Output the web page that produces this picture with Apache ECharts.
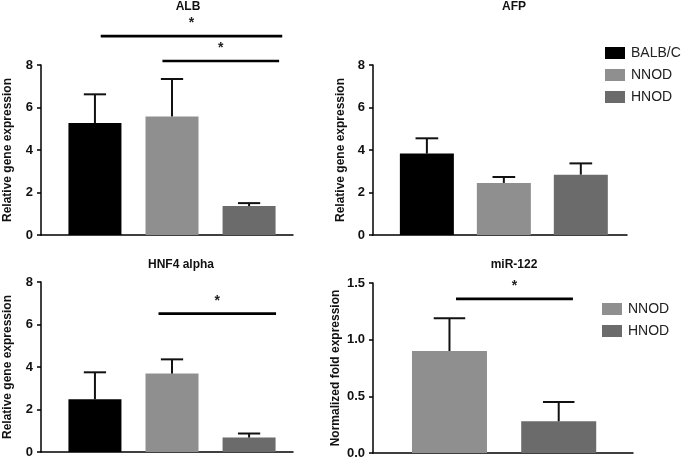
<!DOCTYPE html>
<html>
<head>
<meta charset="utf-8">
<script src="https://cdn.jsdelivr.net/npm/echarts@6/dist/echarts.min.js"></script>
<style>
html,body{margin:0;padding:0;background:#fff;}
#chart{width:685px;height:460px;}
</style>
</head>
<body>
<div id="chart"></div>
<script>
// ---- data ----
const categories = ['BALB/C', 'NNOD', 'HNOD'];
const albMean = [5.27, 5.58, 1.36];
const albErr  = [1.35, 1.76, 0.14];
const afpMean = [3.83, 2.45, 2.84];
const afpErr  = [0.72, 0.28, 0.53];
const hnfMean = [2.48, 3.69, 0.68];
const hnfErr  = [1.27, 0.67, 0.19];
const mirCategories = ['NNOD', 'HNOD'];
const mirMean = [0.90, 0.28];
const mirErr  = [0.29, 0.17];
const geneTicks = [0, 2, 4, 6, 8];
const mirTicks = ['0.0', '0.5', '1.0', '1.5'];
// significance brackets: [from position, to position, height]
const albSig = [[1.075, 3.43, 9.36], [1.876, 3.39, 8.19]];
const hnfSig = [[1.825, 3.35, 6.51]];
const mirSig = [[1.06, 2.13, 1.36]];
const panelTitles = ['ALB', 'AFP', 'HNF4 alpha', 'miR-122'];

// ---- styles ----
const colors = {'BALB/C': '#000000', 'NNOD': '#8f8f8f', 'HNOD': '#6b6b6b'};
const FONT = 'Liberation Sans, Arial, sans-serif';

const grids = [
  {left: 41, top: 65, width: 252, height: 170},
  {left: 373, top: 65, width: 254, height: 170},
  {left: 41, top: 282, width: 252, height: 170},
  {left: 373, top: 283, width: 260, height: 170}
];
const xRanges = [[0.3, 3.57], [0.3, 3.6], [0.3, 3.57], [0.3, 2.68]];

const xAxes = grids.map((g, i) => ({
  type: 'value', gridIndex: i, min: xRanges[i][0], max: xRanges[i][1],
  axisLine: {show: true, lineStyle: {color: '#000', width: 1.5}},
  axisTick: {show: false}, axisLabel: {show: false}, splitLine: {show: false}
}));

function yAxis(i, name, max, interval, fmt) {
  return {
    type: 'value', gridIndex: i, min: 0, max: max, interval: interval,
    name: name, nameLocation: 'middle', nameGap: 27,
    nameTextStyle: {fontFamily: FONT, fontWeight: 'bold', fontSize: 12, color: '#111'},
    axisLine: {show: true, lineStyle: {color: '#000', width: 1.5}},
    axisTick: {show: true, length: 4, lineStyle: {color: '#000', width: 1.5}},
    axisLabel: {fontFamily: FONT, fontWeight: 'bold', fontSize: 13, color: '#111', margin: 8, formatter: fmt},
    splitLine: {show: false}
  };
}
const yAxes = [
  yAxis(0, 'Relative gene expression', geneTicks[geneTicks.length-1], geneTicks[1]-geneTicks[0], v => String(v)),
  yAxis(1, 'Relative gene expression', geneTicks[geneTicks.length-1], geneTicks[1]-geneTicks[0], v => String(v)),
  yAxis(2, 'Relative gene expression', geneTicks[geneTicks.length-1], geneTicks[1]-geneTicks[0], v => String(v)),
  yAxis(3, 'Normalized fold expression', parseFloat(mirTicks[mirTicks.length-1]), 0.5, v => v.toFixed(1))
];
yAxes[1].nameGap = 26;
yAxes[3].nameGap = 31;

const series = [];
function addPanel(idx, cats, means, errs, barWidth, sigs) {
  cats.forEach((c, k) => {
    series.push({
      type: 'bar', name: c, xAxisIndex: idx, yAxisIndex: idx,
      barWidth: barWidth, barGap: '-100%',
      itemStyle: {color: colors[c]},
      data: [[k + 1, means[k]]], z: 2, silent: true
    });
  });
  const cap = barWidth * 0.21;
  series.push({
    type: 'custom', xAxisIndex: idx, yAxisIndex: idx, z: 5, silent: true,
    data: means.map((m, k) => [k + 1, m, errs[k]]),
    encode: {x: 0, y: [1]},
    renderItem: function (params, api) {
      const x = api.value(0), m = api.value(1), e = api.value(2);
      const p0 = api.coord([x, m]);
      const p1 = api.coord([x, m + e]);
      const st = {stroke: '#111', lineWidth: 2};
      return {type: 'group', children: [
        {type: 'line', shape: {x1: p0[0], y1: p0[1], x2: p1[0], y2: p1[1]}, style: st},
        {type: 'line', shape: {x1: p1[0] - cap, y1: p1[1], x2: p1[0] + cap, y2: p1[1]}, style: st}
      ]};
    }
  });
  if (sigs && sigs.length) {
    series.push({
      type: 'custom', xAxisIndex: idx, yAxisIndex: idx, z: 6, silent: true, clip: false,
      data: sigs,
      encode: {x: [0, 1], y: 2},
      renderItem: function (params, api) {
        const a = api.coord([api.value(0), api.value(2)]);
        const b = api.coord([api.value(1), api.value(2)]);
        return {type: 'group', children: [
          {type: 'line', shape: {x1: a[0], y1: a[1], x2: b[0], y2: b[1]}, style: {stroke: '#000', lineWidth: 2.6}},
          {type: 'text', style: {text: '*', x: (a[0] + b[0]) / 2, y: a[1] - 6, align: 'center', verticalAlign: 'bottom',
            font: 'bold 14px ' + FONT, fill: '#222'}}
        ]};
      }
    });
  }
}
addPanel(0, categories, albMean, albErr, 53, albSig);
addPanel(1, categories, afpMean, afpErr, 54, []);
addPanel(2, categories, hnfMean, hnfErr, 53, hnfSig);
addPanel(3, mirCategories, mirMean, mirErr, 75, mirSig);

const titlePos = [[188, 1], [514, 1], [181, 259], [514, 259]];
const titles = panelTitles.map((t, i) => ({
  text: t, left: titlePos[i][0], top: titlePos[i][1], textAlign: 'center', padding: 0,
  textStyle: {fontFamily: FONT, fontWeight: 'bold', fontSize: 12, color: '#111'}
}));

const legendBase = {
  orient: 'vertical', itemWidth: 20, itemHeight: 12, itemGap: 8, selectedMode: false, padding: 0,
  icon: 'rect', textStyle: {fontFamily: FONT, fontSize: 14, color: '#222', padding: [0, 0, 0, 1]}
};

const chart = echarts.init(document.getElementById('chart'), null, {renderer: 'canvas'});
chart.setOption({
  animation: false,
  backgroundColor: '#ffffff',
  title: titles,
  grid: grids,
  xAxis: xAxes,
  yAxis: yAxes,
  legend: [
    Object.assign({}, legendBase, {left: 605, top: 46, data: categories}),
    Object.assign({}, legendBase, {left: 602, top: 302, data: mirCategories})
  ],
  series: series
});
</script>
</body>
</html>
